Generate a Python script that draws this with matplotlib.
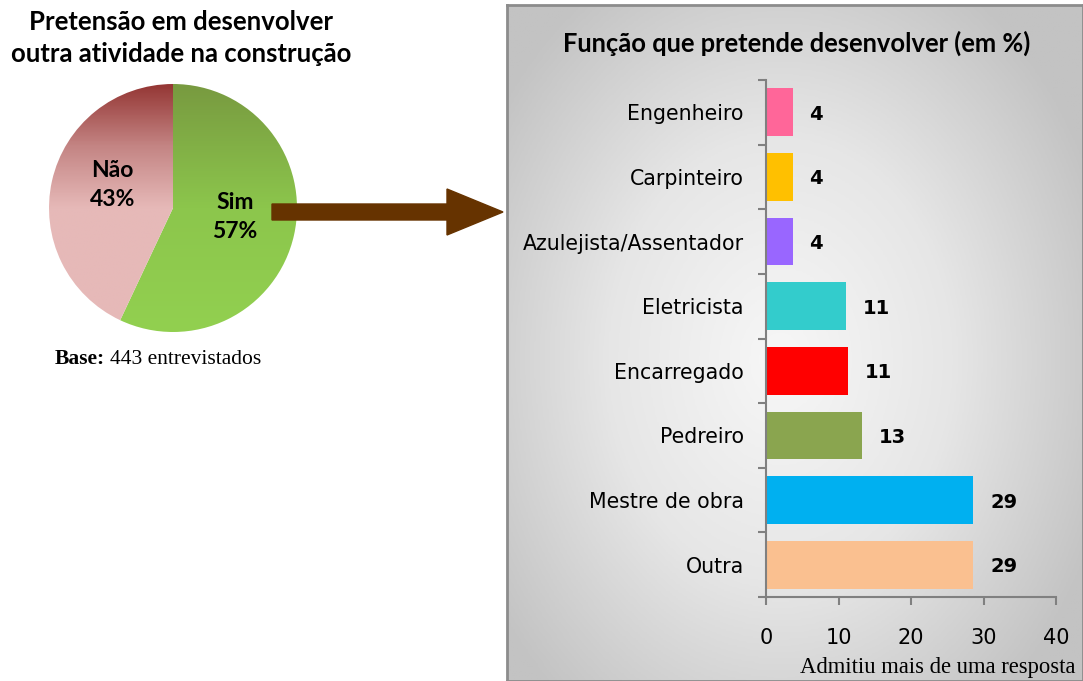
import numpy as np
import matplotlib.pyplot as plt
from matplotlib.colors import LinearSegmentedColormap
from matplotlib.patches import FancyArrow

# dados
pie_labels = ['Sim', 'Não']
pie_values = [57, 43]

funcoes = ['Outra', 'Mestre de obra', 'Pedreiro', 'Encarregado',
           'Eletricista', 'Azulejista/Assentador', 'Carpinteiro', 'Engenheiro']
percentuais = [28.6, 28.6, 13.2, 11.3, 11.0, 3.7, 3.7, 3.7]
cores = ['#fac090', '#00b0f0', '#8aa54f', '#ff0000',
         '#33cccc', '#9966ff', '#ffc000', '#ff6699']
xticks = [0, 10, 20, 30, 40]

W, H = 1083, 681
fig = plt.figure(figsize=(W / 100, H / 100), dpi=100)
fig.patch.set_facecolor('white')


def box(x0, y0, x1, y1):
    # pixel -> fracao da figura
    return [x0 / W, 1 - y1 / H, (x1 - x0) / W, (y1 - y0) / H]


# ---- painel cinza com gradiente radial
bg = fig.add_axes(box(507, 5, W, H))
gx, gy = np.meshgrid(np.linspace(-1, 1, 300), np.linspace(-1, 1, 300))
r = np.sqrt(((gx + 0.05) / 1.0) ** 2 + ((gy - 0.05) / 1.1) ** 2)
grad = np.clip(r, 0, 1.2)
bg_cmap = LinearSegmentedColormap.from_list('bg', ['#f7f7f7', '#e6e6e6', '#c3c3c3'])
bg.imshow(grad, cmap=bg_cmap, aspect='auto', extent=[0, 1, 0, 1], vmin=0, vmax=1.2)
bg.set_xticks([])
bg.set_yticks([])
for s in bg.spines.values():
    s.set_color('#8c8c8c')
    s.set_linewidth(2)

# ---- pizza
pax = fig.add_axes(box(173 - 124, 208 - 124, 173 + 124, 208 + 124))
wedges, _ = pax.pie(pie_values, startangle=90, counterclock=False, radius=1,
                    colors=['none', 'none'], wedgeprops=dict(linewidth=0))
grad_v = np.linspace(1, 0, 200).reshape(-1, 1)
cm_sim = LinearSegmentedColormap.from_list('sim', ['#92d050', '#8cc64c', '#789a40'])
cm_nao = LinearSegmentedColormap.from_list('nao', [(0, '#e6b9b8'), (0.5, '#e6b9b8'),
                                                    (0.75, '#c48584'), (1, '#953735')])
for w, cm in zip(wedges, [cm_sim, cm_nao]):
    im = pax.imshow(grad_v, cmap=cm, extent=[-1, 1, -1, 1], aspect='auto', zorder=0)
    im.set_clip_path(w)
pax.set_xlim(-1, 1)
pax.set_ylim(-1, 1)
pax.set_aspect('equal')
pax.axis('off')
pax.text(0.5, -0.07, f'{pie_labels[0]}\n{pie_values[0]}%', ha='center', va='center',
         fontsize=16.5, fontweight='bold', family='Lato', linespacing=1.45)
pax.text(-0.49, 0.185, f'{pie_labels[1]}\n{pie_values[1]}%', ha='center', va='center',
         fontsize=16.5, fontweight='bold', family='Lato', linespacing=1.45)

fig.text(181 / W, 1 - 38 / H, 'Pretensão em desenvolver\noutra atividade na construção',
         ha='center', va='center', fontsize=18.5, fontweight='bold', family='Lato',
         linespacing=1.35)

base = fig.text(55 / W, 1 - 359 / H, 'Base:', ha='left', va='center', fontsize=15.5,
                family='Liberation Serif', fontweight='bold')
fig.canvas.draw()
bb = base.get_window_extent()
fig.text((bb.x1 + 5) / W, 1 - 359 / H, '443 entrevistados', ha='left', va='center',
         fontsize=15.5, family='Liberation Serif')

# ---- seta
fig.patches.append(FancyArrow(272 / W, 1 - 212 / H, 231 / W, 0, width=16 / H,
                              head_width=46 / H, head_length=56 / W,
                              length_includes_head=True, color='#663300',
                              transform=fig.transFigure, figure=fig))

# ---- barras
ax = fig.add_axes(box(766, 80, 1056, 597))
ax.patch.set_alpha(0)
y = np.arange(len(funcoes))
ax.barh(y, percentuais, height=0.74, color=cores)
for yi, v in zip(y, percentuais):
    ax.text(v + 2.3, yi - 0.03, f'{v:.0f}', ha='left', va='center', fontsize=14,
            fontweight='bold', family='DejaVu Sans')
ax.set_xlim(0, 40)
ax.set_ylim(-0.5, len(funcoes) - 0.5)
ax.set_xticks(xticks)
ax.set_xticklabels([str(v) for v in xticks], fontsize=15, family='DejaVu Sans')
ax.set_yticks(np.arange(-0.5, len(funcoes)))
ax.set_yticklabels([])
ax.set_yticks(y, minor=True)
ax.set_yticklabels(funcoes, minor=True, fontsize=14.8, family='DejaVu Sans')
ax.tick_params(axis='y', which='minor', length=0, pad=16)
ax.tick_params(axis='y', which='major', length=6, color='#808080', width=1.5)
ax.tick_params(axis='x', length=6, color='#808080', width=1.5, pad=16)
for s in ['top', 'right']:
    ax.spines[s].set_visible(False)
for s in ['left', 'bottom']:
    ax.spines[s].set_color('#808080')
    ax.spines[s].set_linewidth(1.5)

fig.text(797 / W, 1 - 43 / H, 'Função que pretende desenvolver (em %)', ha='center',
         va='center', fontsize=18.4, fontweight='bold', family='Lato')
fig.text(1075 / W, 1 - 667 / H, 'Admitiu mais de uma resposta', ha='right', va='center',
         fontsize=16.3, family='Liberation Serif')

fig.savefig('out.png', dpi=100)
